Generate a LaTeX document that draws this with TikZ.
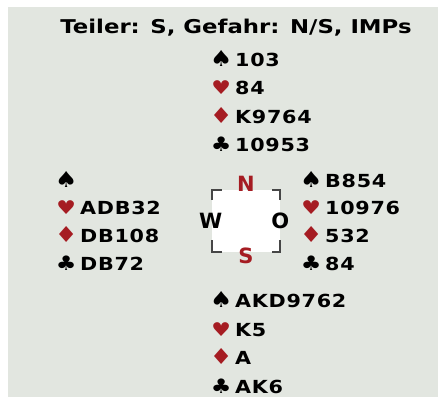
\documentclass[tikz,border=0pt]{standalone}
\usepackage{fontspec}
\setmainfont{DejaVu Sans}
\newfontfamily\cardfont[LetterSpace=4,FakeStretch=1.15]{DejaVu Sans}
\newfontfamily\titlefont[FakeStretch=1.2]{DejaVu Sans}
\definecolor{bgc}{RGB}{226,230,224}
\definecolor{suitred}{RGB}{165,28,34}
\definecolor{bracketc}{RGB}{70,70,70}
\newcommand{\suitbox}[3]{\makebox[18pt][c]{\color{#1}\fontsize{#2}{#2}\selectfont #3}\hspace{5pt}}
\newcommand{\spd}{\suitbox{black}{22}{♠}}
\newcommand{\hrt}{\suitbox{suitred}{19}{♥}}
\newcommand{\dmd}{\suitbox{suitred}{22}{♦}}
\newcommand{\clb}{\suitbox{black}{20}{♣}}
\tikzset{
  handline/.style={anchor=base west, inner sep=0pt, font=\cardfont\bfseries\fontsize{18}{18}\selectfont},
  titletext/.style={anchor=base, inner sep=0pt, font=\titlefont\bfseries\fontsize{19}{19}\selectfont},
  compass/.style={inner sep=0pt, font=\bfseries\fontsize{21}{21}\selectfont},
  bracket/.style={draw=bracketc, line width=1.6pt}
}
\begin{document}
\begin{tikzpicture}[x=1pt,y=-1pt]
\useasboundingbox (0,0) rectangle (438,397);
\fill[white] (0,0) rectangle (438,397);
\fill[bgc] (8,7) rectangle (438,397);
\node[titletext] (title) at (236,33) {Teiler: S, Gefahr: N/S, IMPs};
% North
\node[handline] (n1) at (212,66.5) {\spd 103};
\node[handline] (n2) at (212,94.5) {\hrt 84};
\node[handline] (n3) at (212,123.5) {\dmd K9764};
\node[handline] (n4) at (212,151.5) {\clb 10953};
% West
\node[handline] (w1) at (57,187.5) {\spd};
\node[handline] (w2) at (57,214.5) {\hrt ADB32};
\node[handline] (w3) at (57,242.5) {\dmd DB108};
\node[handline] (w4) at (57,270.5) {\clb DB72};
% East
\node[handline] (e1) at (302,187.5) {\spd B854};
\node[handline] (e2) at (302,214.5) {\hrt 10976};
\node[handline] (e3) at (302,242.5) {\dmd 532};
\node[handline] (e4) at (302,270.5) {\clb 84};
% South
\node[handline] (s1) at (212,307.5) {\spd AKD9762};
\node[handline] (s2) at (212,336) {\hrt K5};
\node[handline] (s3) at (212,364.5) {\dmd A};
\node[handline] (s4) at (212,393) {\clb AK6};
% compass
\node[fill=white, minimum width=68pt, minimum height=62pt, inner sep=0pt] (box) at (246,221) {};
\draw[bracket] ([xshift=10pt]box.north west) -- (box.north west) -- ([yshift=-10pt]box.north west);
\draw[bracket] ([xshift=-8pt]box.north east) -- (box.north east) -- ([yshift=-10pt]box.north east);
\draw[bracket] ([xshift=10pt]box.south west) -- (box.south west) -- ([yshift=12pt]box.south west);
\draw[bracket] ([xshift=-8pt]box.south east) -- (box.south east) -- ([yshift=12pt]box.south east);
\node[compass, text=suitred] (N) at ([yshift=6pt]box.north) {N};
\node[compass, text=suitred] (S) at ([yshift=-4pt]box.south) {S};
\node[compass] (W) at ([xshift=-1pt]box.west) {W};
\node[compass] (O) at ([xshift=0pt]box.east) {O};
\end{tikzpicture}
\end{document}
